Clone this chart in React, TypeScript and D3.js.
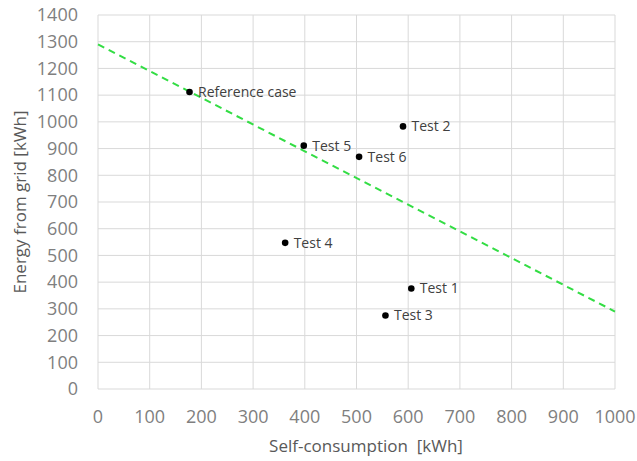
import React from "react";
import * as d3 from "d3";

const labels = ["Reference case", "Test 1", "Test 2", "Test 3", "Test 4", "Test 5", "Test 6"];
const selfConsumption = [177, 606, 590, 556, 362, 398, 505];
const gridEnergy = [1112, 376, 983, 275, 547, 911, 869];
const trendX = [0, 1000];
const trendY = [1290, 290];
const xTicks = [0, 100, 200, 300, 400, 500, 600, 700, 800, 900, 1000];
const yTicks = [0, 100, 200, 300, 400, 500, 600, 700, 800, 900, 1000, 1100, 1200, 1300, 1400];

const width = 637;
const height = 461;
const margin = { top: 15, right: 22, bottom: 72, left: 98 };
const font = "'Open Sans', sans-serif";

export default function App() {
  const x = d3.scaleLinear().domain([0, 1000]).range([margin.left, width - margin.right]);
  const y = d3.scaleLinear().domain([0, 1400]).range([height - margin.bottom, margin.top]);

  const line = d3
    .line<number>()
    .x((d) => x(trendX[d]))
    .y((d) => y(trendY[d]));

  return (
    <svg width={width} height={height} style={{ position: "absolute", left: 0, top: 0 }}>
      <rect width={width} height={height} fill="#fff" />
      {xTicks.map((t) => (
        <line key={"gx" + t} x1={x(t)} x2={x(t)} y1={y(0)} y2={y(1400)} stroke="#d9d9d9" strokeWidth={1} />
      ))}
      {yTicks.map((t) => (
        <line key={"gy" + t} x1={x(0)} x2={x(1000)} y1={y(t)} y2={y(t)} stroke="#d9d9d9" strokeWidth={1} />
      ))}
      {yTicks.map((t) => (
        <text key={"ty" + t} x={78} y={y(t)} dy="0.35em" textAnchor="end" fontFamily={font} fontSize={18} fill="#7f7f7f">
          {t}
        </text>
      ))}
      {xTicks.map((t) => (
        <text key={"tx" + t} x={x(t)} y={417} dy="0.35em" textAnchor="middle" fontFamily={font} fontSize={18} fill="#7f7f7f">
          {t}
        </text>
      ))}
      <path d={line([0, 1]) || ""} fill="none" stroke="#33dd44" strokeWidth={2} strokeDasharray="7,5" />
      {labels.map((l, i) => (
        <g key={l}>
          <circle cx={x(selfConsumption[i])} cy={y(gridEnergy[i])} r={3.3} fill="#000" />
          <text x={x(selfConsumption[i]) + 8.5} y={y(gridEnergy[i])} dy="0.35em" fontFamily={font} fontSize={14} fill="#404040">
            {l}
          </text>
        </g>
      ))}
      <text x={366} y={446} dy="0.35em" textAnchor="middle" fontFamily={font} fontSize={17} fill="#595959" style={{ whiteSpace: "pre" }}>
        {"Self-consumption  [kWh]"}
      </text>
      <text transform={`translate(20,${y(700)}) rotate(-90)`} dy="0.35em" textAnchor="middle" fontFamily={font} fontSize={17} fill="#595959">
        Energy from grid [kWh]
      </text>
    </svg>
  );
}
